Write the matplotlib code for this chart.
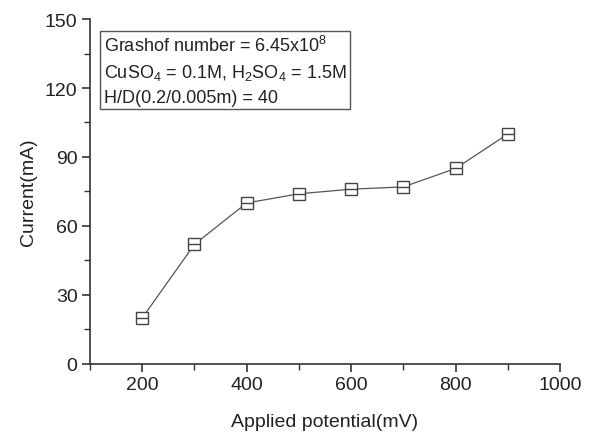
import numpy as np
import matplotlib.pyplot as plt
from matplotlib.ticker import MultipleLocator

plt.rcParams['font.family'] = ['Liberation Sans', 'DejaVu Sans']
plt.rcParams['mathtext.fontset'] = 'custom'
plt.rcParams['mathtext.rm'] = 'Liberation Sans'
plt.rcParams['mathtext.default'] = 'regular'

potential = [200, 300, 400, 500, 600, 700, 800, 900]
current = [20, 52, 70, 74, 76, 77, 85, 100]

txtc = '#222222'
fig = plt.figure(figsize=(5.92, 4.35), dpi=100)
ax = fig.add_axes([0.152, 0.161, 0.794, 0.793])

ax.plot(potential, current, color='#555555', lw=0.9, marker='s', ms=8,
        mfc='white', mec='#444444', mew=1.0, zorder=3)
ax.plot(potential, current, ls='none', marker='_', ms=8, mec='#444444',
        mew=1.0, zorder=4)

ax.set_xlim(100, 1000)
ax.set_ylim(0, 150)
ax.xaxis.set_major_locator(MultipleLocator(200))
ax.xaxis.set_minor_locator(MultipleLocator(100))
ax.yaxis.set_major_locator(MultipleLocator(30))
ax.yaxis.set_minor_locator(MultipleLocator(15))
ax.spines['top'].set_visible(False)
ax.spines['right'].set_visible(False)
for s in ('left', 'bottom'):
    ax.spines[s].set_linewidth(1.2)
    ax.spines[s].set_color('#333333')
ax.tick_params(which='major', length=6, width=1.2, labelsize=14, pad=3,
               direction='out', colors='#333333', labelcolor=txtc)
ax.tick_params(which='minor', length=4, width=1.0, direction='out', colors='#333333')

ax.set_xlabel('Applied potential(mV)', fontsize=14, color=txtc, labelpad=14)
ax.set_ylabel('Current(mA)', fontsize=14, color=txtc, labelpad=6)

txt = ('Grashof number = 6.45x10$^{8}$\n'
       'CuSO$_{4}$ = 0.1M, H$_{2}$SO$_{4}$ = 1.5M\n'
       'H/D(0.2/0.005m) = 40')
ax.text(0.03, 0.955, txt, transform=ax.transAxes, fontsize=13, color=txtc,
        va='top', ha='left', linespacing=1.5,
        bbox=dict(boxstyle='square,pad=0.2', fc='white', ec='#555555', lw=1.0))

fig.savefig('out.png', dpi=100)
